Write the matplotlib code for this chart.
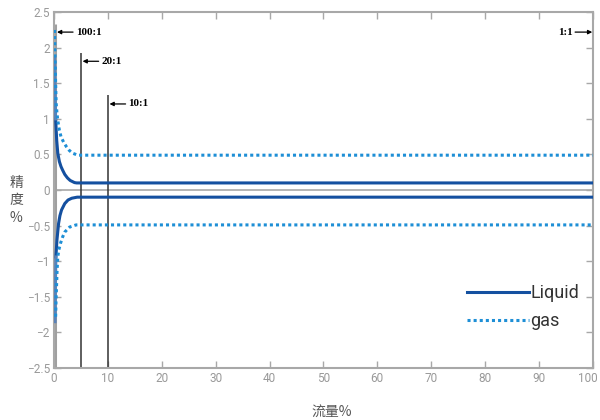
import numpy as np
import matplotlib.pyplot as plt
import matplotlib.transforms as mtrans

# flow (% of full scale) vs accuracy (%)
liq_up_x = [0.1, 0.2, 0.3, 0.5, 0.7, 1.0, 1.3, 1.6, 2.0, 2.5, 3.0, 3.8, 4.2, 100]
liq_up_y = [1.87, 1.40, 1.00, 0.70, 0.52, 0.40, 0.33, 0.28, 0.22, 0.17, 0.135, 0.105, 0.10, 0.10]
liq_lo_x = [0.2, 0.25, 0.35, 0.55, 0.85, 1.1, 1.4, 2.0, 2.6, 3.3, 4.3, 100]
liq_lo_y = [-1.85, -1.35, -0.94, -0.70, -0.47, -0.36, -0.28, -0.19, -0.14, -0.115, -0.10, -0.10]
gas_up_x = [0.1, 0.2, 0.3, 0.4, 0.55, 0.7, 1.0, 1.3, 1.8, 2.3, 2.8, 3.4, 4.4, 100]
gas_up_y = [2.25, 1.85, 1.50, 1.22, 1.08, 0.98, 0.84, 0.75, 0.67, 0.61, 0.56, 0.52, 0.49, 0.49]
gas_lo_x = [0.3, 0.38, 0.45, 0.55, 0.7, 0.9, 1.2, 1.6, 2.0, 2.9, 4.1, 100]
gas_lo_y = [-1.78, -1.55, -1.40, -1.17, -0.94, -0.84, -0.75, -0.66, -0.59, -0.52, -0.49, -0.49]

# turndown ratio markers
ratio_x = [0.25, 5, 10]
ratio_top = [2.33, 1.93, 1.33]
ratio_y = [2.22, 1.81, 1.21]
ratio_txt = ['100:1', '20:1', '10:1']

c_liq = '#1450a0'
c_start = '#5a82b8'
c_gas = '#1e8fd6'
c_ax = '#a8a8a8'

plt.rcParams['font.family'] = ['Roboto', 'DejaVu Sans']
fig = plt.figure(figsize=(6, 4.2), dpi=100)
ax = fig.add_axes([0.09, 0.124, 0.898, 0.847])

ax.axhline(0, color=c_ax, lw=1.2, zorder=1)

for i in range(len(ratio_x)):
    if i == 0:
        col, w = '#a0a0a0', 2.2
    else:
        col, w = '#333333', 1.1
    ax.vlines(ratio_x[i], -2.5, ratio_top[i], colors=col, lw=w, zorder=2)
    ax.annotate(ratio_txt[i], xy=(ratio_x[i] + 0.3, ratio_y[i]),
        xytext=(ratio_x[i] + 3.8, ratio_y[i]), va='center', ha='left',
        fontsize=8, family='Liberation Serif', fontweight='bold',
        arrowprops=dict(arrowstyle='-|>', color='black', lw=0.9,
                        mutation_scale=6, shrinkA=0, shrinkB=0))
ax.annotate('1:1', xy=(99.9, 2.22), xytext=(96.2, 2.22), va='center',
    ha='right', fontsize=8, family='Liberation Serif', fontweight='bold',
    arrowprops=dict(arrowstyle='-|>', color='black', lw=0.9,
                    mutation_scale=6, shrinkA=0, shrinkB=0))

ax.plot(liq_up_x[2:], liq_up_y[2:], color=c_liq, lw=2.2, zorder=3, label='Liquid')
ax.plot(liq_lo_x[2:], liq_lo_y[2:], color=c_liq, lw=2.2, zorder=3)
ax.plot(liq_up_x[:3], liq_up_y[:3], color=c_start, lw=2.2, zorder=3)
ax.plot(liq_lo_x[:3], liq_lo_y[:3], color=c_start, lw=2.2, zorder=3)
ax.plot(gas_up_x, gas_up_y, color=c_gas, lw=2.2, ls=(0, (1, 1)), zorder=3, label='gas')
ax.plot(gas_lo_x, gas_lo_y, color=c_gas, lw=2.2, ls=(0, (1, 1)), zorder=3)

ax.set_xlim(0, 100)
ax.set_ylim(-2.5, 2.5)
ax.set_xticks(np.arange(0, 101, 10))
ax.set_yticks(np.arange(-2.5, 2.51, 0.5))
ax.set_yticklabels(['\u22122.5', '\u22122', '\u22121.5', '\u22121', '\u22120.5',
                    '0', '0.5', '1', '1.5', '2', '2.5'])
ax.tick_params(direction='in', top=True, right=True, length=5, width=1,
    color=c_ax, labelcolor='#999999', labelsize=8.5, pad=3)
for s in ax.spines.values():
    s.set_color(c_ax)
    s.set_linewidth(1.5)

# nudge the "100" label so it stays inside the canvas
last = ax.xaxis.get_major_ticks()[-1].label1
last.set_transform(last.get_transform() + mtrans.ScaledTranslation(-5 / 100, 0, fig.dpi_scale_trans))

ax.legend(loc='lower right', bbox_to_anchor=(1.005, 0.06), frameon=False,
    fontsize=13, handlelength=3.4, handletextpad=0.1, labelspacing=0.55,
    labelcolor='#333333')

cjk = ['Noto Sans CJK SC', 'DejaVu Sans']
fig.text(0.027, 0.523, '精\n度\n%', ha='center', va='center', fontsize=10,
    color='#555555', family=cjk, linespacing=1.3)
fig.text(0.553, 0.019, '流量%', ha='center', va='center', fontsize=10,
    color='#555555', family=cjk)

fig.savefig('out.png', dpi=100)
